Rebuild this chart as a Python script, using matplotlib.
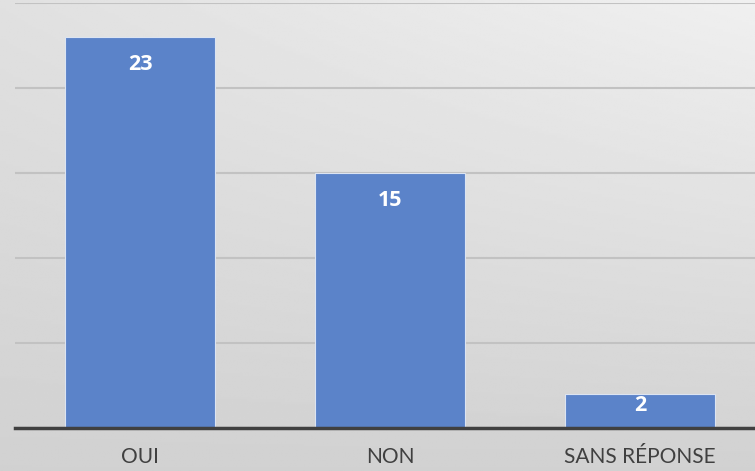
import numpy as np
import matplotlib
matplotlib.use('Agg')
import matplotlib.pyplot as plt

categories = ['OUI', 'NON', 'SANS RÉPONSE']
values = [23, 15, 2]
yticks = [0, 5, 10, 15, 20, 25]

W, H, DPI = 755, 471, 100
fig = plt.figure(figsize=(W / DPI, H / DPI), dpi=DPI)

# soft grey gradient behind the chart
bg = fig.add_axes([0, 0, 1, 1], zorder=0)
xx, yy = np.meshgrid(np.linspace(0, 1, 200), np.linspace(0, 1, 200))
shade = 0.82 + 0.06 * (1 - yy) + 0.06 * xx * (1 - yy)
bg.imshow(shade, cmap='gray', vmin=0, vmax=1, aspect='auto',
          extent=[0, 1, 0, 1], origin='upper')
bg.axis('off')

left, right = 15, 765
bottom, top = H - 428, H - 3
ax = fig.add_axes([left / W, bottom / H, (right - left) / W, (top - bottom) / H], zorder=1)
ax.patch.set_alpha(0)

x = np.arange(len(categories))
bars = ax.bar(x, values, width=0.6, color='#5b83c9', edgecolor='#dce4f2',
              linewidth=0.8, zorder=2)
for b, v in zip(bars, values):
    ypos = v - 1.6 if v > 3 else v - 0.7
    ax.text(b.get_x() + b.get_width() / 2, ypos, str(v), ha='center', va='center',
            color='white', fontsize=15.5, fontweight='bold',
            family=['Open Sans', 'DejaVu Sans'], zorder=3)

ax.set_xlim(-0.5, len(categories) - 0.5)
ax.set_ylim(0, 25)
ax.set_yticks(yticks)
ax.yaxis.grid(True, color='#c2c2c2', linewidth=1.5, zorder=1)
ax.tick_params(axis='y', left=False, labelleft=False)
ax.tick_params(axis='x', bottom=False, pad=10)
ax.set_xticks(x)
ax.set_xticklabels(categories, fontsize=15, color='#404040', family=['Lato', 'DejaVu Sans'])
for s in ['top', 'right', 'left']:
    ax.spines[s].set_visible(False)
ax.spines['bottom'].set_color('#404040')
ax.spines['bottom'].set_linewidth(2.5)
ax.spines['bottom'].set_zorder(4)

fig.savefig('out.png', dpi=DPI)
